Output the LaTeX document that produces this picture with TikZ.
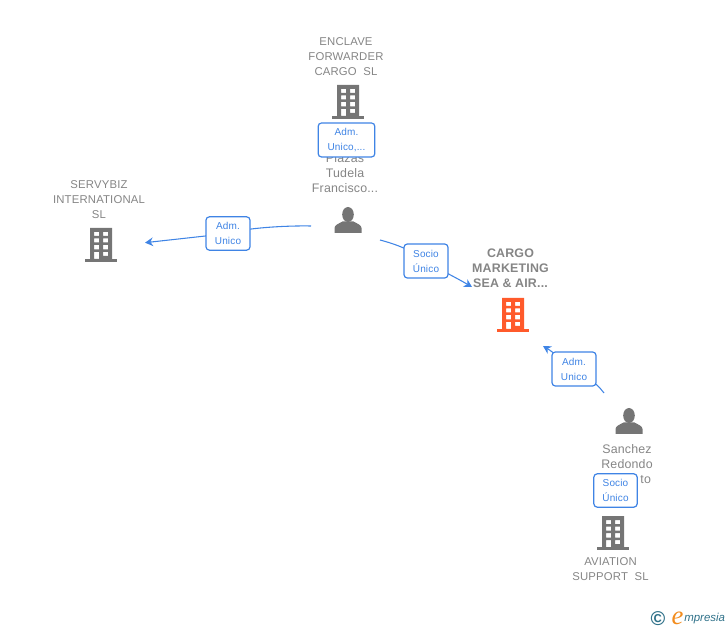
\documentclass[tikz,border=0pt]{standalone}
\usepackage{fontspec}
\setmainfont{Liberation Sans}[LetterSpace=1.5]
\newfontfamily\logofont{Liberation Serif}
\newfontfamily\logosans{Liberation Sans}
\usetikzlibrary{arrows.meta}
\pgfdeclarelayer{bg}
\pgfsetlayers{bg,main}
\definecolor{linkblue}{HTML}{3F84E5}
\definecolor{icongray}{HTML}{757575}
\definecolor{textgray}{HTML}{858585}
\definecolor{mainorange}{HTML}{FF5A2B}
\definecolor{logoteal}{HTML}{2F7189}
\definecolor{logoorange}{HTML}{F28C1E}
\tikzset{
        company/.style={text=textgray, align=center, inner sep=0pt, font=\fontsize{8.5}{11.25}\selectfont},
        maincompany/.style={company, font=\fontsize{9.3}{11.25}\selectfont\bfseries},
        officer/.style={company, font=\fontsize{9.3}{11.25}\selectfont},
        role/.style={draw=linkblue, fill=white, text=linkblue, rounded corners=2.5pt, line width=0.9pt, align=center, inner sep=0pt, font=\fontsize{7.5}{11.25}\selectfont},
        link/.style={draw=linkblue, line width=0.8pt},
        linkarrow/.style={link, -{Stealth[length=6pt,width=6.5pt]}},
        building/.pic={
                \path[pic actions, even odd rule]
                        (-11,-17) rectangle (11,14)
                        (-7,-13) rectangle (-2,-9) (2,-13) rectangle (7,-9)
                        (-7,-6.5) rectangle (-2,-2.5) (2,-6.5) rectangle (7,-2.5)
                        (-7,0) rectangle (-2,4.5) (2,0) rectangle (7,4.5)
                        (-7,7) rectangle (-2,14) (2,7) rectangle (7,11);
                \path[pic actions] (-16,14) rectangle (16,17);
        },
        person/.pic={
                \path[pic actions] (0,-5.5) ellipse (5.8 and 7.5);
                \path[pic actions] (-13.5,13) -- (-13.5,8) .. controls (-13.5,5) and (-9,3.5) .. (-5.5,1.5)
                        -- (5.5,1.5) .. controls (9,3.5) and (13.5,5) .. (13.5,8) -- (13.5,13) -- cycle;
        },
}
\begin{document}
\begin{tikzpicture}[x=0.75pt, y=-0.75pt]
        \useasboundingbox (0,0) rectangle (728,630);
        \coordinate (s1) at (311,226);
        \coordinate (e1) at (145,242.7);
        \coordinate (s2) at (380,240);
        \coordinate (e2) at (472,287);
        \coordinate (s3) at (604,393);
        \coordinate (e3) at (543,346);
        \node (enclave) [company] at (346,56.5) {ENCLAVE\\FORWARDER\\CARGO\ \ SL};
        \node (servybiz) [company] at (99,199.5) {SERVYBIZ\\INTERNATIONAL\\SL};
        \node (cargo) [maincompany] at (510.5,268.5) {CARGO\\MARKETING\\SEA \& AIR...};
        \node (aviation) [company] at (610.5,569) {AVIATION\\SUPPORT\ \ SL};
        \node (plazas) [officer] at (345,173.5) {Plazas\\Tudela\\Francisco...};
        \node (sanchez) [officer] at (627,464.5) {Sanchez\\Redondo\\\hspace*{28pt}to};
        \pic (enclaveicon) [fill=icongray] at (348,102) {building};
        \pic (servybizicon) [fill=icongray] at (101,245) {building};
        \pic (cargoicon) [fill=mainorange] at (513,315) {building};
        \pic (aviationicon) [fill=icongray] at (613,533) {building};
        \pic (plazasicon) [fill=icongray] at (348,220) {person};
        \pic (sanchezicon) [fill=icongray] at (629,421) {person};
        \node (r1) [role, minimum width=42.5pt, minimum height=25.5pt] at (346.5,140) {Adm.\\Unico,...};
        \node (r2) [role, minimum width=33pt, minimum height=25pt] at (228,233.5) {Adm.\\Unico};
        \node (r3) [role, minimum width=33pt, minimum height=25.5pt] at (426,261) {Socio\\Único};
        \node (r4) [role, minimum width=33pt, minimum height=25.5pt] at (574,369) {Adm.\\Unico};
        \node (r5) [role, minimum width=32.5pt, minimum height=25pt] at (615.5,490.5) {Socio\\Único};
        \node (logoc) [text=logoteal, inner sep=0pt, font=\logosans\bfseries\fontsize{15}{15}\selectfont] at (658,619) {\textcopyright};
        \node (logoe) [text=logoorange, inner sep=0pt, font=\logofont\itshape\fontsize{20}{20}\selectfont] at (677.5,618) {e};
        \node (logotext) [text=logoteal, inner sep=0pt, anchor=west, font=\logosans\itshape\fontsize{8.6}{10}\selectfont] at (684,619) {mpresia};
        \begin{pgfonlayer}{bg}
                \draw [linkarrow] (s1) .. controls (285,225.5) and (245,228) .. (r2.center) -- (e1);
                \draw [linkarrow] (s2) .. controls (395,244) and (412,250) .. (r3.center) .. controls (440,270) and (455,277) .. (e2);
                \draw [linkarrow] (s3) .. controls (595,381) and (585,376) .. (r4.center) .. controls (563,361) and (553,352) .. (e3);
        \end{pgfonlayer}
\end{tikzpicture}
\end{document}
